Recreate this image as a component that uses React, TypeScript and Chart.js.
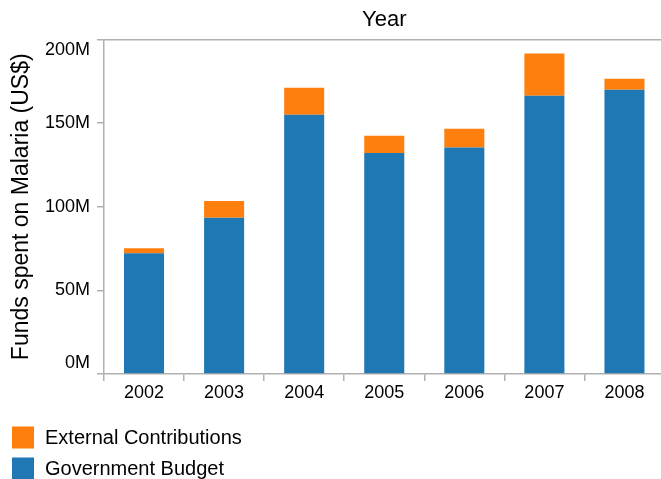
import React, { useEffect, useRef } from "react";
import { Chart, registerables } from "chart.js";

Chart.register(...registerables);

const years = ["2002", "2003", "2004", "2005", "2006", "2007", "2008"];
const governmentBudget = [72.2, 93.4, 155.0, 132.2, 135.4, 166.4, 170.0];
const externalContributions = [3.0, 10.0, 16.2, 10.2, 11.2, 25.2, 6.6];
const yTicks = [0, 50, 100, 150, 200];
const seriesNames = ["Government Budget", "External Contributions"];
const seriesColors = ["#1f77b4", "#ff7f0e"];
const xTitle = "Year";
const yTitle = "Funds spent on Malaria (US$)";

const AXIS = "#b0b0b0";
const FONT = "'Liberation Sans', Arial, Helvetica, sans-serif";

const legendPlugin = {
  id: "stackLegend",
  afterDraw(chart: any) {
    const ctx = chart.ctx;
    const ds = chart.data.datasets.slice().reverse();
    ctx.save();
    ctx.font = `20px ${FONT}`;
    ctx.textBaseline = "middle";
    ctx.textAlign = "left";
    ds.forEach((d: any, i: number) => {
      const top = 426.5 + i * 31;
      ctx.fillStyle = d.backgroundColor;
      ctx.fillRect(12, top, 22, 22);
      ctx.fillStyle = "#000";
      ctx.fillText(d.label, 45, top + 12);
    });
    ctx.restore();
  },
};

export default function App() {
  const ref = useRef<HTMLCanvasElement | null>(null);

  useEffect(() => {
    if (!ref.current) return;
    Chart.defaults.font.family = FONT;
    const chart = new Chart(ref.current, {
      type: "bar",
      data: {
        labels: years,
        datasets: [
          {
            label: seriesNames[0],
            data: governmentBudget,
            backgroundColor: seriesColors[0],
            categoryPercentage: 1,
            barPercentage: 0.5,
          },
          {
            label: seriesNames[1],
            data: externalContributions,
            backgroundColor: seriesColors[1],
            categoryPercentage: 1,
            barPercentage: 0.5,
          },
        ],
      },
      options: {
        responsive: false,
        animation: false,
        devicePixelRatio: 1,
        layout: { padding: { top: 0, left: 0, right: 5.5, bottom: 75 } },
        plugins: {
          legend: { display: false },
          tooltip: { enabled: false },
          title: { display: false },
        },
        scales: {
          x: {
            type: "category",
            position: "bottom",
            stacked: true,
            offset: true,
            grid: {
              offset: true,
              drawOnChartArea: false,
              drawTicks: true,
              tickLength: 7,
              color: AXIS,
              lineWidth: 1.5,
            },
            border: { display: true, color: AXIS, width: 1.5 },
            ticks: {
              font: { size: 18, family: FONT },
              color: "#000",
              padding: 1,
              maxRotation: 0,
              autoSkip: false,
            },
            afterFit: (s: any) => {
              s.height = 30;
            },
          },
          x2: {
            type: "category",
            position: "top",
            labels: years,
            grid: { display: false, drawTicks: false },
            border: { display: true, color: AXIS, width: 1.5 },
            ticks: { display: false },
            title: {
              display: true,
              text: xTitle,
              font: { size: 22, family: FONT },
              color: "#000",
              padding: { top: 7, bottom: 0 },
            },
            afterFit: (s: any) => {
              s.height = 39.5;
            },
          },
          y: {
            type: "linear",
            position: "left",
            stacked: true,
            min: yTicks[0],
            max: yTicks[yTicks.length - 1],
            afterBuildTicks: (s: any) => {
              s.ticks = yTicks.map((v) => ({ value: v }));
            },
            grid: {
              drawOnChartArea: false,
              drawTicks: true,
              tickLength: 7,
              color: AXIS,
              lineWidth: 1.5,
            },
            border: { display: true, color: AXIS, width: 1.5 },
            ticks: {
              font: { size: 18, family: FONT },
              color: "#000",
              padding: 7,
              callback: (v: any) => {
                const s = `${v}M`;
                if (v === yTicks[yTicks.length - 1]) return ["", s];
                if (v === yTicks[0]) return [s, ""];
                return s;
              },
            },
            title: {
              display: true,
              text: yTitle,
              font: { size: 23, family: FONT },
              color: "#000",
              padding: { top: 8, bottom: 0 },
            },
            afterFit: (s: any) => {
              s.width = 104;
            },
          },
        },
      } as any,
      plugins: [legendPlugin],
    });
    return () => chart.destroy();
  }, []);

  return (
    <div
      style={{
        position: "fixed",
        left: 0,
        top: 0,
        width: 661,
        height: 479,
        overflow: "hidden",
        background: "#fff",
      }}
    >
      <canvas
        ref={ref}
        width={670}
        height={479}
        style={{ display: "block", width: 670, height: 479 }}
      />
    </div>
  );
}
